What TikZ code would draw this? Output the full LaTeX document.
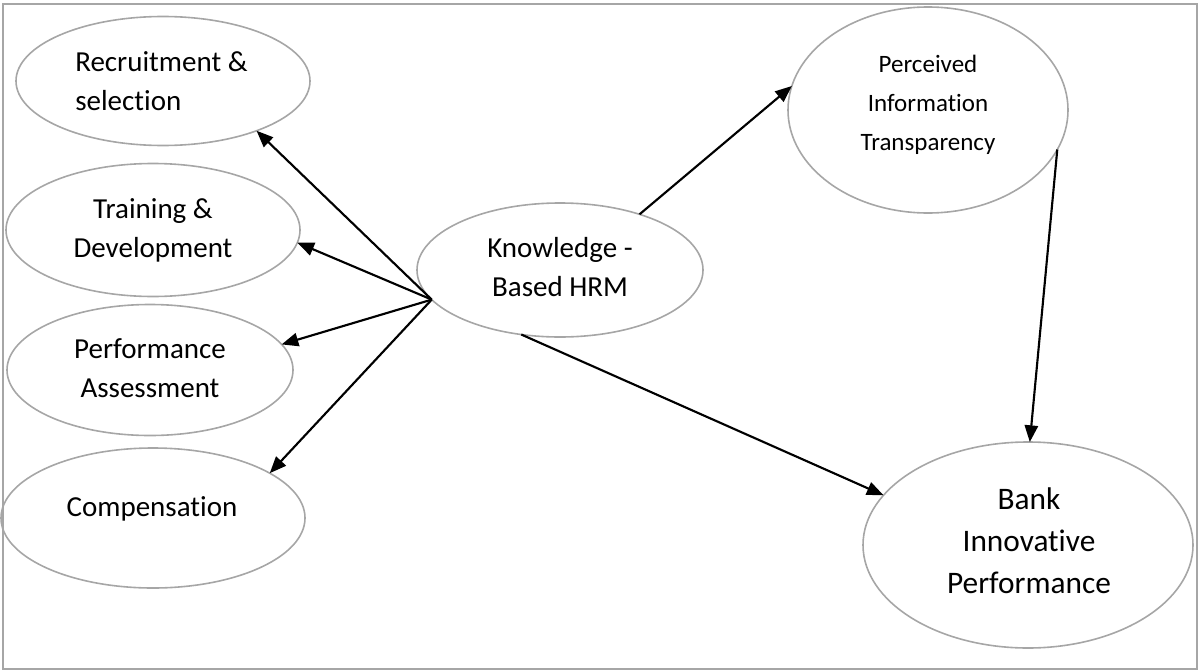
\documentclass[tikz,border=0pt]{standalone}
\usepackage{fontspec}
\setmainfont{Carlito}[Ligatures=NoCommon]
\usetikzlibrary{shapes.geometric,arrows.meta}
\definecolor{ovalgray}{HTML}{A6A6A6}
\definecolor{framegray}{HTML}{A6A6A6}
\begin{document}
\begin{tikzpicture}[x=0.75pt,y=-0.75pt,
  oval/.style={ellipse, draw=ovalgray, line width=1.2pt, inner sep=0pt, outer sep=0pt},
  lbl/.style={anchor=base, align=center, inner sep=0pt, font=\fontsize{21.75pt}{29pt}\selectfont},
  link/.style={line width=1.6pt, -{Triangle[length=12.5pt,width=10pt]}}]
\useasboundingbox (0,0) rectangle (1198,671);
\draw[framegray, line width=1.5pt] (3,3.5) rectangle (1196.5,668.5);
% ovals
\node[oval, minimum width=220.5pt, minimum height=96.75pt] (rec) at (163,81) {};
\node[oval, minimum width=220.5pt, minimum height=99.75pt] (trd) at (153,230) {};
\node[oval, minimum width=214.5pt, minimum height=98.25pt] (pas) at (150,370) {};
\node[oval, minimum width=228pt, minimum height=105pt] (cmp) at (153,518) {};
\node[oval, minimum width=214.5pt, minimum height=100.5pt] (kb) at (560,270) {};
\node[oval, minimum width=210pt, minimum height=154.5pt] (pit) at (928,110) {};
\node[oval, minimum width=247.5pt, minimum height=154.5pt] (bip) at (1028,545) {};
% labels (base anchor = baseline of last line)
\node[lbl, anchor=base west, align=left] (recT) at (75,110) {Recruitment \&\\selection};
\node[lbl] (trdT) at (153,257) {Training \&\\Development};
\node[lbl] (pasT) at (150,397) {Performance\\Assessment};
\node[lbl] (cmpT) at (152,516) {Compensation};
\node[lbl] (kbT) at (560,296) {Knowledge -\\Based HRM};
\node[lbl, font=\fontsize{18.75pt}{29.25pt}\selectfont] (pitT) at (928,150) {Perceived\\Information\\Transparency};
\node[lbl, font=\fontsize{23.5pt}{31.5pt}\selectfont] (bipT) at (1029,593) {Bank\\Innovative\\Performance};
% connectors
\coordinate (hub) at (kb.193);
\draw[link] (hub) -- (rec.-28);
\draw[link] (hub) -- (trd.-5.5);
\draw[link] (hub) -- (pas.11.3);
\draw[link] (hub) -- (cmp.21);
\draw[link] (kb.35.2) -- (pit.170.7);
\draw[link] (pit.-17.9) -- (bip.89);
\draw[link] (kb.239) -- (bip.161.1);
\end{tikzpicture}
\end{document}
